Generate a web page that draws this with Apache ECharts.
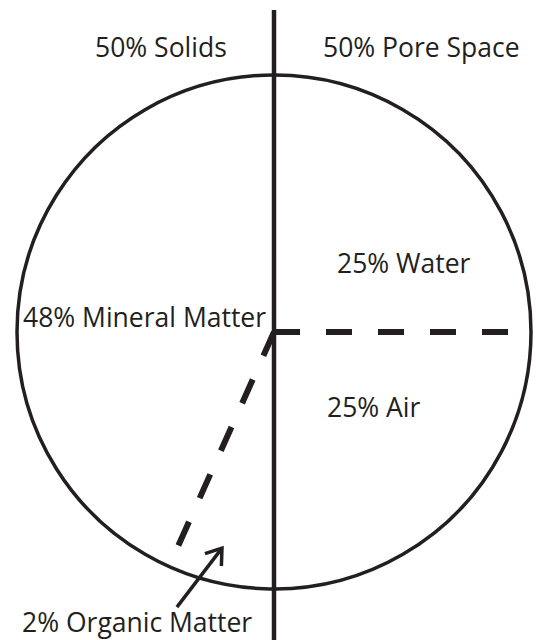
<!DOCTYPE html>
<html>
<head>
<meta charset="utf-8">
<script src="https://cdn.jsdelivr.net/npm/echarts@6/dist/echarts.min.js"></script>
<style>
  html, body { margin: 0; padding: 0; background: #ffffff; }
  #chart { width: 536px; height: 640px; }
</style>
</head>
<body>
<div id="chart"></div>
<script>
// ---- Data (percent of soil volume) ----
const categories = ['Water', 'Air', 'Organic Matter', 'Mineral Matter'];
const shares = [25, 25, 2, 48];
const groups = ['Solids', 'Pore Space'];
const groupShares = [50, 50];

// The diagram is not drawn to scale for the organic slice: the dashed
// boundary sits at this position (percent of the circle, clockwise from top),
// read off the picture.
const organicBoundaryAsDrawn = 56.7;

// Arrow annotation pointing into the organic-matter slice: [radius, anglePct]
const arrowShaft = [[1.135, 55.40], [0.865, 53.76]];
const arrowHead = [[0.903, 54.81], [0.865, 53.76], [0.933, 53.52]];

// ---- Derived positions from the data ----
const poreBoundary = shares[0];                 // water | air
const halfBoundary = shares[0] + shares[1];     // pore space | solids
const ink = '#231f20';
const font = '26.5px "Open Sans"';
const R = 257;            // circle radius in px
const OUTER = 1.3;        // extent of the line layer, in circle radii

const chart = echarts.init(document.getElementById('chart'), null, { renderer: 'svg' });

function ray(angle, reach) { return [[0, angle], [reach, angle]]; }

const lineBase = {
  type: 'line',
  coordinateSystem: 'polar',
  polarIndex: 1,
  showSymbol: false,
  symbol: 'none',
  clip: false,
  silent: true,
  animation: false
};

const hiddenAxis = {
  axisLine: { show: false }, axisTick: { show: false },
  axisLabel: { show: false }, splitLine: { show: false }
};

chart.setOption({
  animation: false,
  polar: [
    { center: [274, 332], radius: R },
    { center: [274, 332], radius: R * OUTER }
  ],
  angleAxis: [
    Object.assign({}, hiddenAxis, {
      polarIndex: 0, type: 'value', min: 0, max: 100, startAngle: 90, clockwise: true,
      axisLine: { show: true, lineStyle: { color: ink, width: 3.5 } }
    }),
    Object.assign({}, hiddenAxis, {
      polarIndex: 1, type: 'value', min: 0, max: 100, startAngle: 90, clockwise: true
    })
  ],
  radiusAxis: [
    Object.assign({}, hiddenAxis, { polarIndex: 0, type: 'value', min: 0, max: 1 }),
    Object.assign({}, hiddenAxis, { polarIndex: 1, type: 'value', min: 0, max: OUTER })
  ],
  series: [
    Object.assign({}, lineBase, {
      name: 'divider',
      data: [[1.253, 0], [0, 0], [OUTER, halfBoundary]],
      lineStyle: { color: ink, width: 4.5, cap: 'butt' }
    }),
    Object.assign({}, lineBase, {
      name: 'water-air',
      data: ray(poreBoundary, 0.918),
      lineStyle: { color: ink, width: 6, type: [26, 26], cap: 'butt' }
    }),
    Object.assign({}, lineBase, {
      name: 'organic-mineral',
      data: ray(organicBoundaryAsDrawn, 0.918),
      lineStyle: { color: ink, width: 6, type: [26, 26], cap: 'butt' }
    }),
    Object.assign({}, lineBase, {
      name: 'arrow',
      data: arrowShaft,
      lineStyle: { color: ink, width: 3.5, cap: 'butt' }
    }),
    Object.assign({}, lineBase, {
      name: 'arrowhead',
      data: arrowHead,
      lineStyle: { color: ink, width: 3.5, cap: 'butt', join: 'miter' }
    })
  ],
  graphic: [
    { type: 'text', left: 95, top: 33, style: { text: groupShares[0] + '% ' + groups[0], font: font, fill: ink } },
    { type: 'text', left: 323, top: 33, style: { text: groupShares[1] + '% ' + groups[1], font: font, fill: ink } },
    { type: 'text', left: 337, top: 249, style: { text: shares[0] + '% ' + categories[0], font: font, fill: ink } },
    { type: 'text', left: 327, top: 393, style: { text: shares[1] + '% ' + categories[1], font: font, fill: ink } },
    { type: 'text', left: 23, top: 303, style: { text: shares[3] + '% ' + categories[3], font: font, fill: ink } },
    { type: 'text', left: 22, top: 608, style: { text: shares[2] + '% ' + categories[2], font: font, fill: ink } }
  ]
});
</script>
</body>
</html>
